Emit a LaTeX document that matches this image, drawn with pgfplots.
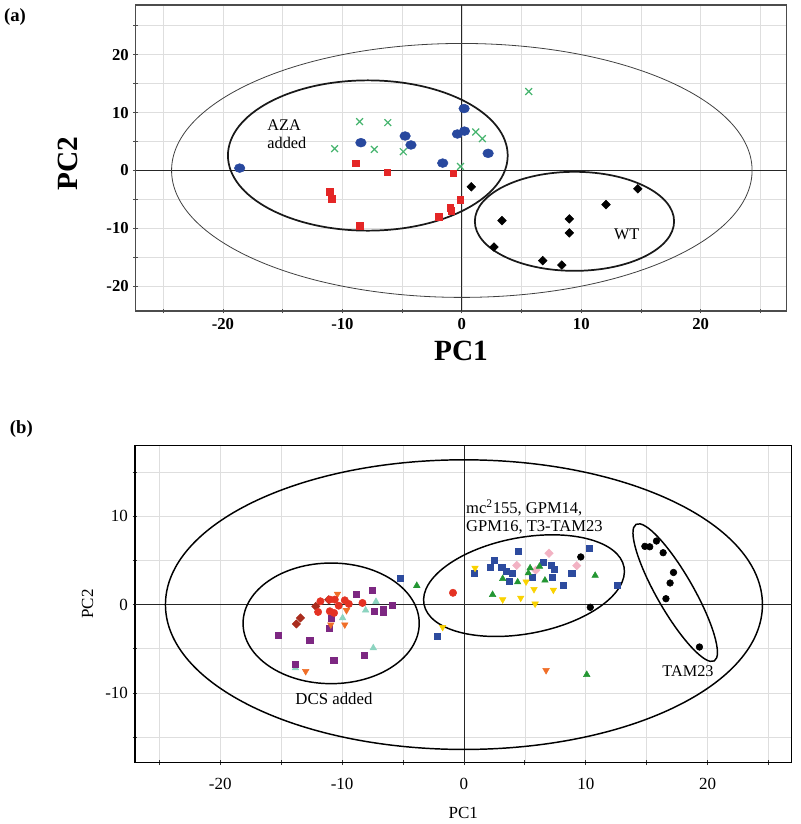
\documentclass[border=0pt]{standalone}
\usepackage{pgfplots}
\pgfplotsset{compat=1.18}
\usepackage{fontspec}
\setmainfont{Liberation Serif}

\definecolor{ablue}{RGB}{40,72,158}
\definecolor{agreen}{RGB}{70,180,110}
\definecolor{ared}{RGB}{228,38,38}
\definecolor{bblue}{RGB}{45,75,158}
\definecolor{bgreen}{RGB}{35,150,50}
\definecolor{byellow}{RGB}{250,210,0}
\definecolor{bpink}{RGB}{242,178,195}
\definecolor{bred}{RGB}{228,50,35}
\definecolor{bdarkred}{RGB}{170,45,30}
\definecolor{bpurple}{RGB}{125,40,130}
\definecolor{borange}{RGB}{240,110,40}
\definecolor{bteal}{RGB}{140,212,192}

\pgfplotsset{
  pcabase/.style={
    scale only axis, anchor=south west,
    grid=both,
    major grid style={black!13, line width=0.5pt},
    minor grid style={black!13, line width=0.5pt},
    tick align=center, tick pos=left,
    major tick length=3.5pt, minor tick length=3.5pt,
    /pgf/number format/assume math mode=true,
    only marks,
  },
}

\begin{document}
\begin{tikzpicture}
\useasboundingbox (0,0) rectangle (600pt,618pt);

% ---------------- panel (a) ----------------
\begin{axis}[pcabase,
  at={(101.8pt,384.75pt)}, width=488.25pt, height=229.5pt,
  xmin=-27.3, xmax=27.2, ymin=-24.3, ymax=28.6,
  xtick={-20,-10,0,10,20}, ytick={-20,-10,0,10,20},
  minor xtick={-25,-15,-5,5,15,25}, minor ytick={-15,-5,5,15,25},
  tick label style={font=\fontsize{12.5}{12.5}\selectfont\bfseries},
  axis line style={black!70, line width=0.8pt},
  tick style={black!70, line width=0.6pt},
]
\draw[black!85, line width=0.6pt] (axis cs:0,-24.3) -- (axis cs:0,28.6);
\draw[black!85, line width=0.6pt] (axis cs:-27.3,0) -- (axis cs:27.2,0);
\draw[black!75, line width=0.6pt] (axis cs:0,0) ellipse [x radius=24.3, y radius=21.95];
\draw[black!90, line width=1.3pt] (axis cs:-7.87,2.58) ellipse [x radius=11.71, y radius=12.99];
\draw[black!90, line width=1.3pt] (axis cs:9.43,-8.8) ellipse [x radius=8.34, y radius=8.56];

\addplot[mark=square*, mark size=2.45pt, color=ared] coordinates {
(-8.9,1.27) (-6.24,-0.29) (-0.71,-0.46) (-11.07,-3.7) (-10.88,-4.86)
(-0.15,-5.03) (-0.97,-6.47) (-0.9,-6.94) (-1.94,-7.98) (-8.56,-9.6)};
\addplot[mark=x, mark size=3.6pt, color=agreen, mark options={line width=0.9pt}] coordinates {
(-8.56,8.44) (-6.2,8.27) (-10.65,3.76) (-7.33,3.64) (-4.9,3.24)
(1.16,6.65) (1.72,5.5) (-0.11,0.69) (5.6,13.64)};
\addplot[mark=*, mark size=3.3pt, color=ablue, mark options={xscale=1.2}] coordinates {
(-18.6,0.4) (-8.45,4.8) (-4.75,5.95) (-4.26,4.4) (-1.6,1.27)
(-0.37,6.3) (0.22,6.8) (0.19,10.7) (2.2,2.95)};
\addplot[mark=square*, mark size=2.3pt, color=black, mark options={rotate=45}] coordinates {
(0.79,-2.83) (3.36,-8.67) (9.0,-8.38) (9.0,-10.8) (12.07,-5.9)
(14.73,-3.18) (2.69,-13.24) (6.77,-15.6) (8.37,-16.36)};

\node[anchor=west, align=left, inner sep=0pt, font=\fontsize{12.2}{13.2}\selectfont] at (axis cs:-16.3,6.3) {AZA\\added};
\node[inner sep=0pt, font=\fontsize{12.2}{13.2}\selectfont] at (axis cs:13.8,-11.0) {WT};
\end{axis}

% ---------------- panel (b) ----------------
\begin{axis}[pcabase,
  at={(101.25pt,45.98pt)}, width=492.5pt, height=237.75pt,
  xmin=-27.0, xmax=26.9, ymin=-17.9, ymax=18.0,
  xtick={-20,-10,0,10,20}, ytick={-10,0,10},
  minor xtick={-25,-15,-5,5,15,25}, minor ytick={-15,-5,5,15},
  tick label style={font=\fontsize{12.75}{12.75}\selectfont},
  xticklabel style={yshift=-6pt},
  axis line style={black, line width=1pt},
  tick style={black!80, line width=0.6pt},
]
\draw[black!85, line width=0.6pt] (axis cs:0,-17.9) -- (axis cs:0,18.0);
\draw[black!85, line width=0.6pt] (axis cs:-27,0) -- (axis cs:26.9,0);
\draw[black, line width=1.1pt] (axis cs:0,0) ellipse [x radius=24.5, y radius=16.4];
\draw[black, line width=1.1pt] (axis cs:-10.9,-2.12) ellipse [x radius=7.23, y radius=6.83];
\draw[black, line width=1.1pt, rotate around={10.5:(axis cs:4.93,2.15)}] (axis cs:4.93,2.15) ellipse [x radius=8.35, y radius=5.45];
\draw[black, line width=1.1pt, rotate around={-60.2:(axis cs:17.34,1.36)}] (axis cs:17.34,1.36) ellipse [x radius=6.46, y radius=2.08];

\addplot[mark=triangle*, mark size=2.8pt, color=bteal] coordinates {
(-7.22,0.34) (-8.07,-0.64) (-9.96,-1.51) (-7.44,-4.91) (-13.83,-7.17)};
\addplot[mark=square*, mark size=2.3pt, color=bpurple] coordinates {
(-8.82,1.13) (-7.52,1.59) (-7.38,-0.79) (-6.63,-0.49) (-6.6,-0.87) (-5.86,-0.08)
(-10.88,-1.51) (-11.09,-2.72) (-12.65,-4.08) (-15.23,-3.51) (-13.86,-6.75)
(-10.68,-6.34) (-8.19,-5.77)};
\addplot[mark=triangle*, mark size=2.8pt, color=borange, mark options={rotate=180}] coordinates {
(-10.38,1.21) (-10.93,-2.27) (-9.78,-2.27) (-9.64,-0.65) (-12.99,-7.55) (6.74,-7.44)};
\addplot[mark=square*, mark size=2.2pt, color=bdarkred, mark options={rotate=45}] coordinates {
(-13.75,-2.19) (-13.42,-1.51) (-12.16,-0.2) (-11.1,0.55)};
\addplot[mark=*, mark size=2.75pt, color=bred] coordinates {
(-0.9,1.34) (-11.78,0.38) (-11.01,0.57) (-10.6,0.57) (-10.28,-0.12) (-9.78,0.49)
(-9.45,0.08) (-8.33,0.19) (-11.97,-0.83) (-11.01,-0.75) (-10.66,-0.94)};
\addplot[mark=square*, mark size=2.2pt, color=bpink, mark options={rotate=45}] coordinates {
(4.33,4.45) (6.98,5.82) (9.26,4.41) (5.9,3.9)};
\addplot[mark=square*, mark size=2.3pt, color=bblue] coordinates {
(-5.2,3.0) (-2.16,-3.59) (0.88,3.59) (2.14,4.27) (2.49,4.98) (3.1,4.2) (3.45,3.74)
(3.73,2.6) (4.0,3.51) (4.46,6.04) (5.64,3.13) (6.52,4.8) (7.2,4.45) (7.42,4.04)
(7.26,3.13) (8.16,2.19) (8.85,3.59) (10.27,6.38) (12.6,2.23)};
\addplot[mark=triangle*, mark size=2.8pt, color=bgreen] coordinates {
(-3.87,2.15) (2.35,1.13) (3.18,2.93) (4.41,2.55) (5.29,3.57) (5.43,4.14)
(6.2,4.33) (6.65,2.75) (10.77,3.29) (10.08,-7.93)};
\addplot[mark=triangle*, mark size=2.8pt, color=byellow, mark options={rotate=180}] coordinates {
(0.91,4.15) (-1.75,-2.55) (3.18,0.57) (4.66,0.76) (5.1,2.6) (5.75,1.74) (5.84,0.09) (7.34,1.66)};
\addplot[mark=*, mark size=2.5pt, color=black] coordinates {
(9.59,5.4) (10.37,-0.3) (14.85,6.6) (15.25,6.55) (15.8,7.2) (16.35,5.88)
(17.2,3.64) (16.92,2.45) (16.58,0.67) (19.33,-4.8)};

\node[anchor=west, align=left, inner sep=0pt, font=\fontsize{12.4}{14}\selectfont] at (axis cs:0.16,9.93) {mc\textsuperscript{2}155, GPM14,\\GPM16, T3-TAM23};
\node[inner sep=0pt, font=\fontsize{12.6}{14}\selectfont] at (axis cs:-10.67,-10.67) {DCS added};
\node[inner sep=0pt, font=\fontsize{12.2}{14}\selectfont] at (axis cs:18.39,-7.55) {TAM23};
\end{axis}

% ---------------- outer labels ----------------
\node[font=\fontsize{14}{14}\selectfont\bfseries] at (11.25pt,605pt) {(a)};
\node[font=\fontsize{14}{14}\selectfont\bfseries] at (16pt,296.1pt) {(b)};
\node[inner sep=1pt, font=\fontsize{22}{22}\selectfont\bfseries] at (345.75pt,354.5pt) {PC1};
\node[rotate=90, font=\fontsize{22}{22}\selectfont\bfseries] at (50.6pt,495pt) {PC2};
\node[font=\fontsize{12.75}{12.75}\selectfont] at (347.5pt,8.25pt) {PC1};
\node[rotate=90, font=\fontsize{12.75}{12.75}\selectfont] at (65.6pt,165pt) {PC2};
\end{tikzpicture}
\end{document}
